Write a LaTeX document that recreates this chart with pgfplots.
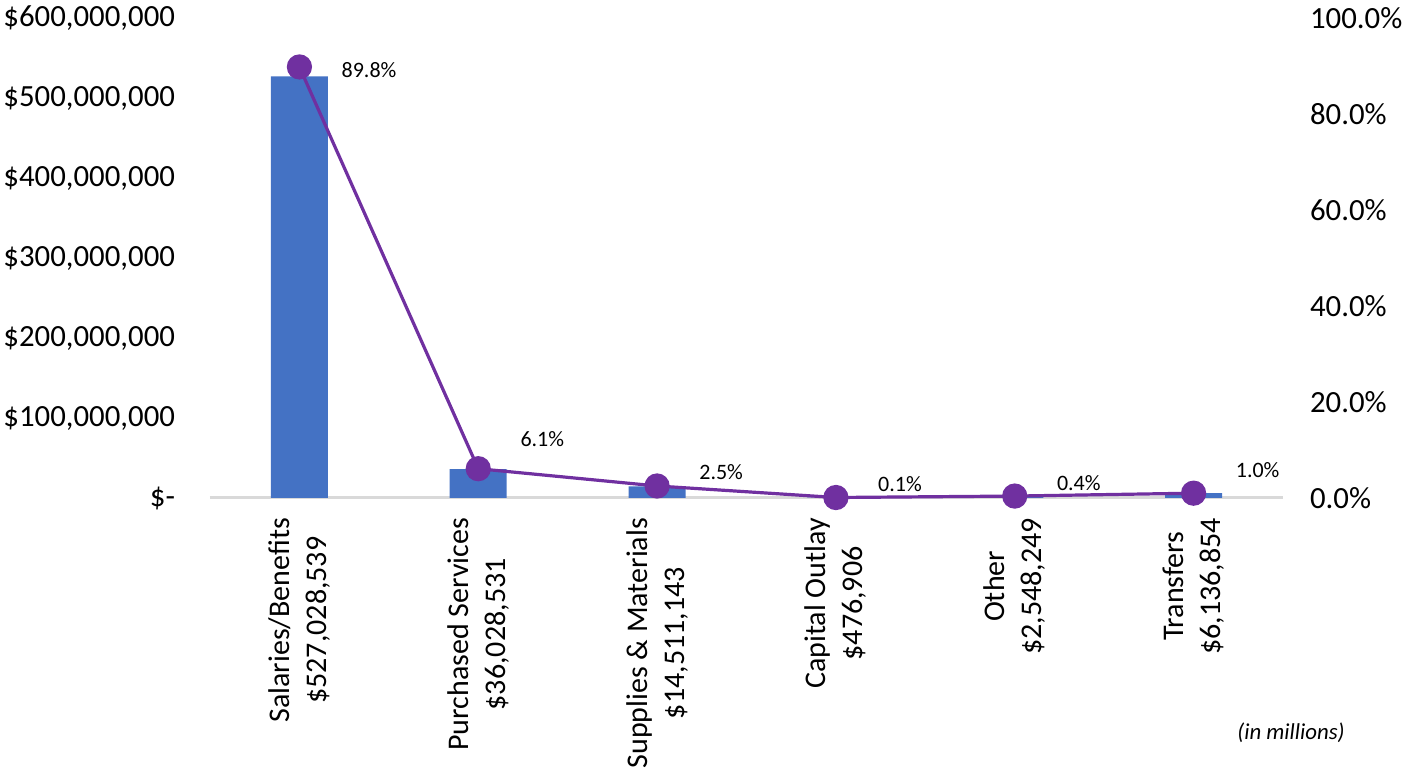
\documentclass[border=0pt]{standalone}
\usepackage{pgfplots}
\pgfplotsset{compat=1.18}
\usepackage{fontspec}
\setmainfont{Carlito}
\definecolor{barblue}{HTML}{4472C4}
\definecolor{linepurple}{HTML}{7030A0}
\definecolor{basegray}{HTML}{D9D9D9}
\begin{document}
\begin{tikzpicture}
\path[use as bounding box] (-105pt,-138pt) rectangle (596.5pt,249pt);
\begin{axis}[
  at={(0,0)}, anchor=south west, scale only axis,
  width=536.5pt, height=240pt,
  xmin=-0.5, xmax=5.5, ymin=0, ymax=600,
  axis line style={draw=none}, tick style={draw=none},
  xtick={0,1,2,3,4,5},
  xticklabels={{Salaries/Benefits\\\$527,028,539},{Purchased Services\\\$36,028,531},{Supplies \& Materials\\\$14,511,143},{Capital Outlay\\\$476,906},{Other\\\$2,548,249},{Transfers\\\$6,136,854}},
  xticklabel style={yshift=-6.5pt, rotate=90, anchor=east, align=center, font=\fontsize{15}{18.5}\selectfont},
  ytick={0,100,200,300,400,500,600},
  yticklabels={{\$-},{\$100,000,000},{\$200,000,000},{\$300,000,000},{\$400,000,000},{\$500,000,000},{\$600,000,000}},
  yticklabel style={xshift=-14pt, font=\fontsize{15.4}{18}\selectfont},
  extra y ticks={0}, extra y tick labels={},
  extra y tick style={grid=major, major grid style={draw=basegray, line width=1.5pt}},
]
\addplot[ybar, bar width=28.5pt, fill=barblue, draw=none] coordinates {
  (0,527.028539) (1,36.028531) (2,14.511143) (3,0.476906) (4,2.548249) (5,6.136854)
};
\end{axis}
\begin{axis}[
  at={(0,0)}, anchor=south west, scale only axis,
  width=536.5pt, height=240pt,
  xmin=-0.5, xmax=5.5, ymin=0, ymax=100,
  axis x line=none, axis y line*=right,
  axis line style={draw=none}, tick style={draw=none},
  ytick={0,20,40,60,80,100},
  yticklabels={{0.0\%},{20.0\%},{40.0\%},{60.0\%},{80.0\%},{100.0\%}},
  yticklabel style={xshift=10pt, font=\fontsize{15.4}{18}\selectfont},
  clip=false,
]
\addplot[linepurple, line width=1.6pt, mark=*, mark size=5.5pt,
  mark options={fill=linepurple, draw=linepurple},
  point meta=y,
  nodes near coords={\pgfmathprintnumber[assume math mode=true,fixed,precision=1,fixed zerofill]{\pgfplotspointmeta}\%},
  visualization depends on={\thisrow{dy} \as \dy},
  nodes near coords style={anchor=west, xshift=17pt, yshift=\dy pt, text=black, font=\fontsize{11}{13}\selectfont},
] table {
x y dy
0 89.8 -1.5
1 6.1 15
2 2.5 7
3 0.1 6.5
4 0.4 6.5
5 1.0 11.5
};
\end{axis}
\node[font=\itshape\fontsize{11.4}{13}\selectfont] at (540.5pt,-117.5pt) {(in millions)};
\end{tikzpicture}
\end{document}
